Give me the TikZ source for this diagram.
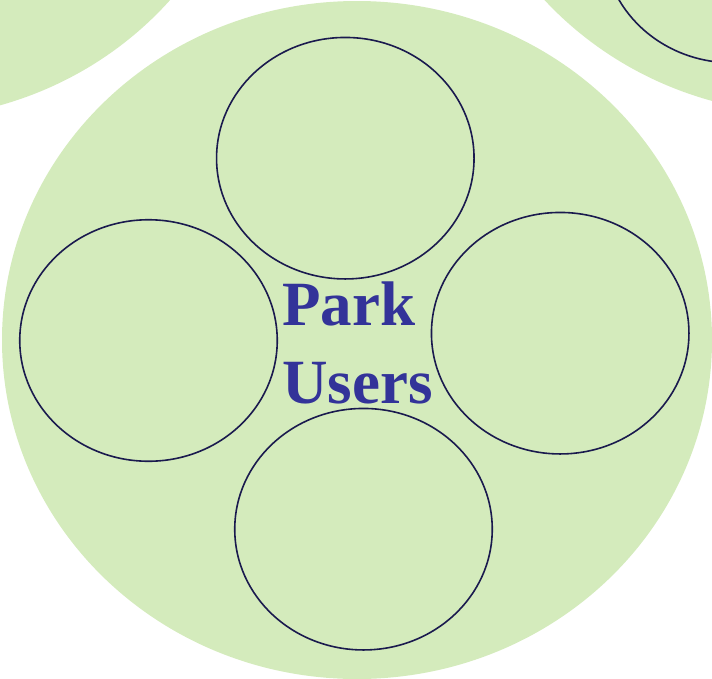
\documentclass[tikz,border=0pt]{standalone}
\usepackage{fontspec}
\setmainfont{Liberation Serif}
\usetikzlibrary{shapes.geometric}
\definecolor{leaf}{HTML}{D4EBBC}
\definecolor{ink}{HTML}{1A1A4E}
\definecolor{usertext}{HTML}{333399}

\begin{document}
\begin{tikzpicture}[x=1pt,y=-1pt,
 blob/.style={ellipse,fill=leaf,inner sep=0pt,minimum width=710pt,minimum height=678pt},
 ring/.style={ellipse,draw=ink,line width=1.6pt,inner sep=0pt,
 minimum width=257.5pt,minimum height=241.5pt},
 lbl/.style={text=usertext,font=\fontsize{63}{78}\selectfont\bfseries,align=left,inner sep=0pt}]
\useasboundingbox (0,0) rectangle (712,678);
\clip (0,0) rectangle (712,678);
% neighbouring groups, cut off at the edge
\node[blob] (nw) at (-100,-220) {};
\node[blob] (ne) at (810,-225) {};
\node[ring] (nering) at (732,-58) {};
% main group
\node[blob] (park) at (357,340) {};
\node[ring] (top) at (345.3,158.2) {};
\node[ring] (left) at (148.5,340.5) {};
\node[ring] (right) at (560.2,333.2) {};
\node[ring] (bottom) at (363.5,529.2) {};
\node[lbl,anchor=base west] (users) at (282,403) {Park\\Users};
\end{tikzpicture}
\end{document}
